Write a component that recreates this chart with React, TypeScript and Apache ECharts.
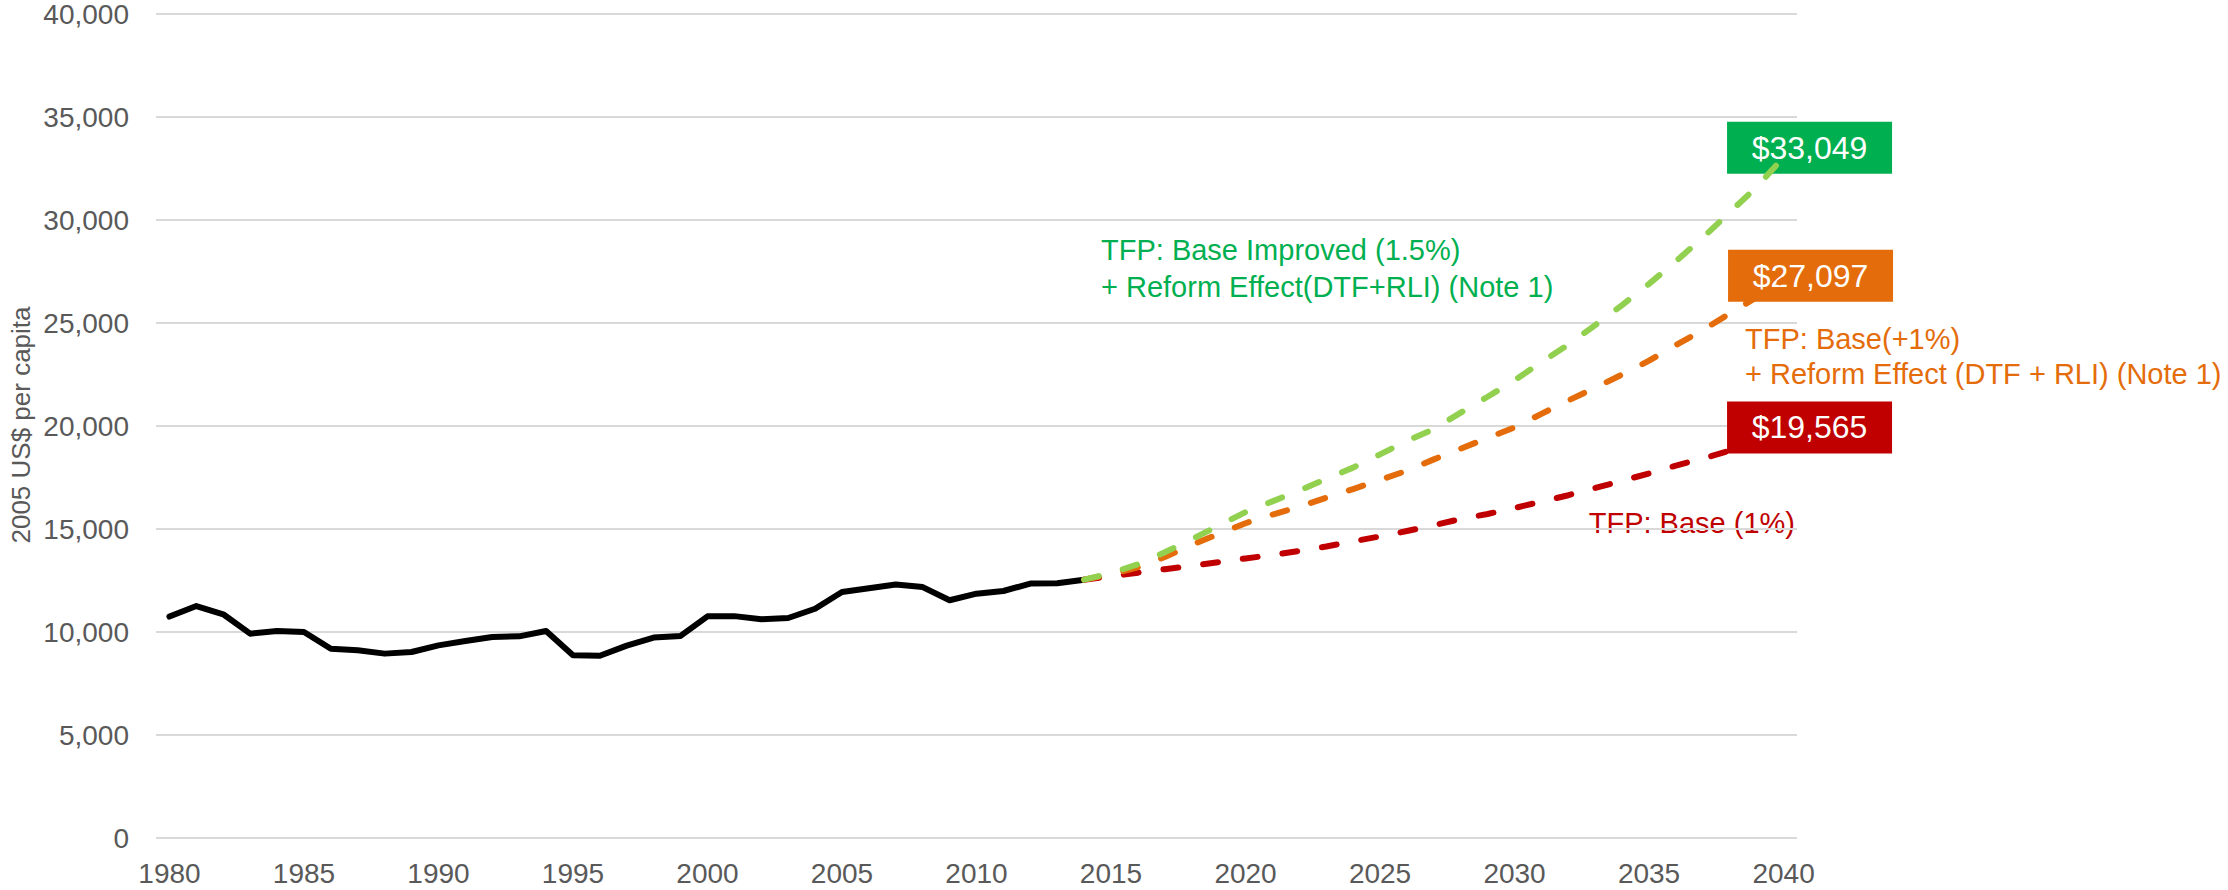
import React, { useEffect, useRef } from "react";
import * as echarts from "echarts";

const FIRST_YEAR = 1980;
const LAST_YEAR = 2040;
const years: string[] = [];
for (let y = FIRST_YEAR; y <= LAST_YEAR; y++) years.push(String(y));

// GDP per capita, 2005 US$, 1980-2014
const historical = [
  10750, 11260, 10860, 9920, 10050, 10000, 9190, 9110, 8950, 9030,
  9350, 9560, 9760, 9790, 10050, 8870, 8850, 9340, 9730, 9810,
  10760, 10770, 10620, 10680, 11130, 11940, 12120, 12310, 12180, 11540,
  11860, 11990, 12350, 12370, 12540,
];

const PROJECTION_START = 2014;
// Projections 2014-2040
const baseImproved = [
  12540, 12860, 13290, 13870, 14500, 15160, 15820, 16340, 16870, 17430,
  17980, 18620, 19280, 19850, 20650, 21420, 22220, 23100, 23950, 24900,
  25870, 26900, 28000, 29140, 30380, 31600, 33049,
];
const basePlusOne = [
  12540, 12800, 13140, 13640, 14230, 14760, 15280, 15700, 16080, 16520,
  16940, 17380, 17830, 18380, 18900, 19420, 19930, 20590, 21240, 21860,
  22500, 23170, 23930, 24660, 25460, 26250, 27097,
];
const baseOne = [
  12540, 12700, 12880, 13050, 13210, 13390, 13570, 13740, 13940, 14150,
  14400, 14640, 14900, 15180, 15490, 15730, 16020, 16330, 16640, 16990,
  17340, 17700, 18080, 18420, 18800, 19180, 19565,
];

const Y_MIN = 0;
const Y_MAX = 40000;
const Y_STEP = 5000;

const FONT = "'Liberation Sans', Arial, sans-serif";

function padHistorical(vals: number[]) {
  return years.map((_, i) => (i < vals.length ? vals[i] : null));
}

function padProjection(vals: number[]) {
  const startIdx = PROJECTION_START - FIRST_YEAR;
  return years.map((_, i) => {
    const j = i - startIdx;
    if (j < 0 || j >= vals.length) return null;
    return vals[j];
  });
}

function endCallout(vals: number[], color: string, offset: number[]) {
  const last = vals[vals.length - 1];
  return {
    silent: true,
    symbol: "rect",
    symbolSize: [165, 52],
    symbolOffset: offset,
    itemStyle: { color },
    label: {
      show: true,
      position: "inside",
      color: "#ffffff",
      fontSize: 32,
      fontFamily: FONT,
      formatter: "$" + last.toLocaleString("en-US"),
    },
    data: [{ coord: [years[years.length - 1], last], value: last }],
  };
}

export default function App() {
  const ref = useRef<HTMLDivElement>(null);

  useEffect(() => {
    if (!ref.current) return;
    const chart = echarts.init(ref.current, undefined, { renderer: "svg" });

    const dashed = (color: string) => ({
      color,
      width: 6,
      type: [15, 25] as any,
      cap: "round",
      join: "round",
    });

    const note = (text: string, x: number, y: number, fill: string, align = "left") => ({
      type: "text",
      x,
      y,
      silent: true,
      style: {
        text,
        fill,
        fontSize: 29,
        fontFamily: FONT,
        textAlign: align,
        textVerticalAlign: "middle",
      },
    });

    chart.setOption({
      animation: false,
      backgroundColor: "#ffffff",
      textStyle: { fontFamily: FONT },
      grid: { left: 156, right: 431, top: 13, bottom: 52, containLabel: false },
      xAxis: {
        type: "category",
        data: years,
        boundaryGap: true,
        axisLine: { show: false },
        axisTick: { show: false },
        axisLabel: {
          interval: 4,
          color: "#595959",
          fontSize: 28,
          lineHeight: 28,
          margin: 21,
          fontFamily: FONT,
        },
        splitLine: { show: false },
      },
      yAxis: {
        type: "value",
        min: Y_MIN,
        max: Y_MAX,
        interval: Y_STEP,
        axisLine: { show: false },
        axisTick: { show: false },
        axisLabel: {
          color: "#595959",
          fontSize: 28,
          margin: 27,
          fontFamily: FONT,
          formatter: (v: number) => v.toLocaleString("en-US"),
        },
        splitLine: { lineStyle: { color: "#D9D9D9", width: 2 } },
      },
      series: [
        {
          name: "Historical",
          type: "line",
          data: padHistorical(historical),
          symbol: "none",
          lineStyle: { color: "#000000", width: 6, join: "round", cap: "round" },
          z: 3,
        },
        {
          name: "TFP: Base (1%)",
          type: "line",
          data: padProjection(baseOne),
          symbol: "none",
          itemStyle: { color: "#C00000" },
          lineStyle: dashed("#C00000"),
          markPoint: endCallout(baseOne, "#C00000", [26, -7.5]),
          z: 4,
        },
        {
          name: "TFP: Base(+1%) + Reform Effect",
          type: "line",
          data: padProjection(basePlusOne),
          symbol: "none",
          itemStyle: { color: "#E46C0A" },
          lineStyle: dashed("#E46C0A"),
          markPoint: endCallout(basePlusOne, "#E46C0A", [27, -4]),
          z: 5,
        },
        {
          name: "TFP: Base Improved (1.5%) + Reform Effect",
          type: "line",
          data: padProjection(baseImproved),
          symbol: "none",
          itemStyle: { color: "#92D050" },
          lineStyle: dashed("#92D050"),
          markPoint: endCallout(baseImproved, "#00B050", [26, -9.5]),
          z: 6,
        },
      ],
      graphic: [
        {
          type: "text",
          x: 21,
          y: 425,
          rotation: Math.PI / 2,
          silent: true,
          style: {
            text: "2005 US$ per capita",
            fill: "#595959",
            fontSize: 26,
            fontFamily: FONT,
            textAlign: "center",
            textVerticalAlign: "middle",
          },
        },
        note("TFP: Base Improved (1.5%)", 1101, 250, "#00B050"),
        note("+ Reform Effect(DTF+RLI) (Note 1)", 1101, 287, "#00B050"),
        note("TFP: Base(+1%)", 1745, 339, "#E46C0A"),
        note("+ Reform Effect (DTF + RLI) (Note 1)", 1745, 374, "#E46C0A"),
        note("TFP: Base (1%)", 1795, 523, "#C00000", "right"),
      ],
    });

    return () => chart.dispose();
  }, []);

  return (
    <div
      ref={ref}
      style={{ position: "fixed", left: 0, top: 0, width: 2228, height: 890 }}
    />
  );
}
